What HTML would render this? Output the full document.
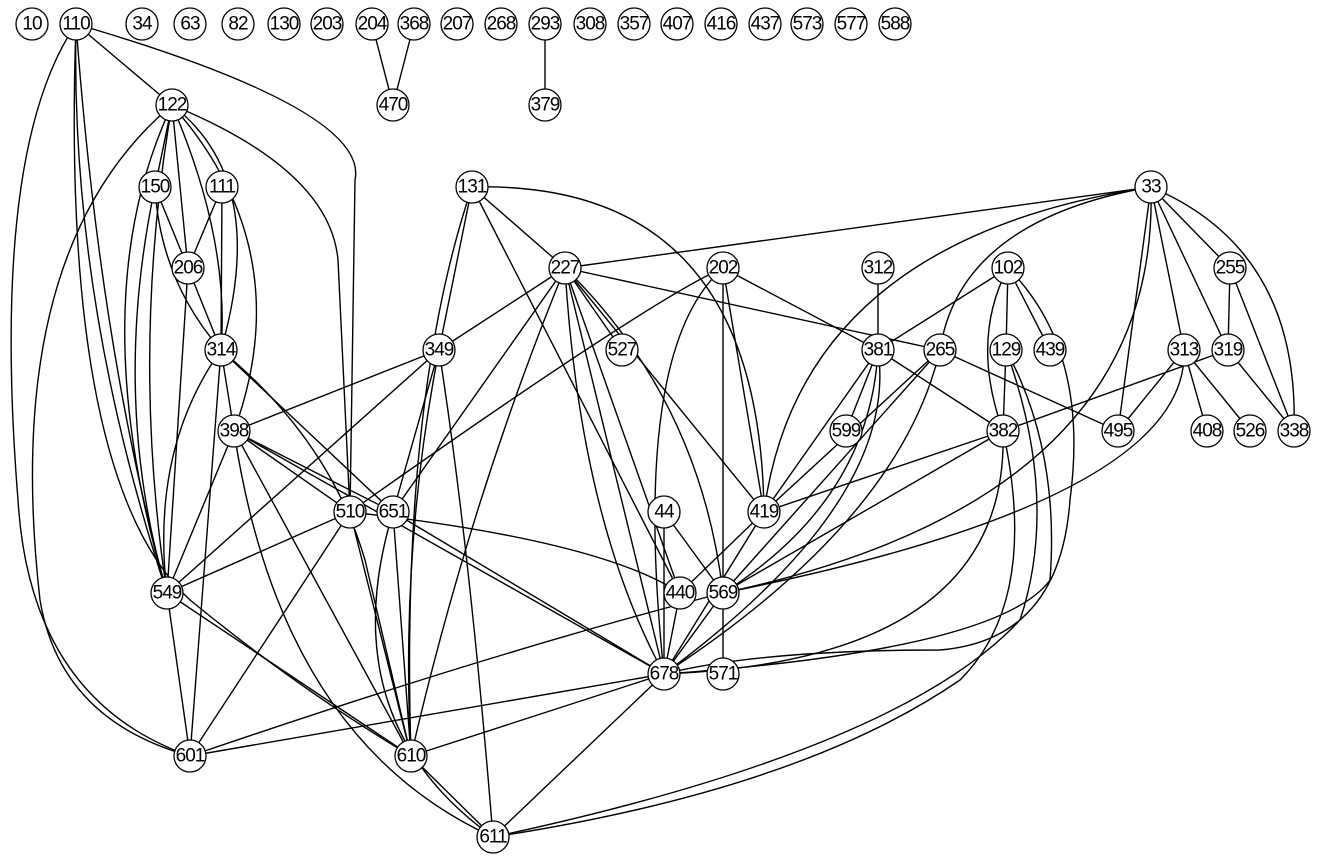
<!DOCTYPE html>
<html><head><meta charset="utf-8"><style>
html,body{margin:0;padding:0;background:#fff}
svg{display:block}
text{font-family:"Liberation Sans",Arial,sans-serif;font-size:19px;text-anchor:middle;dominant-baseline:central;letter-spacing:-1px}
circle{fill:#fff;stroke:#000;stroke-width:1.3}
path{fill:none;stroke:#000;stroke-width:1.4}
</style></head><body>
<svg width="1320" height="857" viewBox="0 0 1320 857" xmlns="http://www.w3.org/2000/svg">
<g>
<path d="M76 24 L172 105"/>
<path d="M76 24 Q70 300 167 593"/>
<path d="M76 24 Q100 350 167 593"/>
<path d="M76 24 Q-10 150 18 500 Q30 700 190 756"/>
<path d="M76 24 Q60 480 190 600 Q300 690 411 756"/>
<path d="M76 24 Q370 110 355 180 L350 512"/>
<path d="M372 24 L393 105"/>
<path d="M414 24 L393 105"/>
<path d="M545 24 L545 105"/>
<path d="M172 105 L155 187"/>
<path d="M172 105 L188 268"/>
<path d="M172 105 Q270 180 221 350"/>
<path d="M172 105 Q230 240 221 350"/>
<path d="M172 105 Q300 250 234 431"/>
<path d="M172 105 Q80 300 167 593"/>
<path d="M172 105 Q130 350 167 593"/>
<path d="M172 105 Q0 250 40 600 Q60 720 190 756"/>
<path d="M172 105 Q330 170 338 260 L350 512"/>
<path d="M155 187 L188 268"/>
<path d="M155 187 Q160 280 221 350"/>
<path d="M155 187 Q110 400 167 593"/>
<path d="M222 187 L188 268"/>
<path d="M222 187 L221 350"/>
<path d="M188 268 L167 593"/>
<path d="M188 268 L221 350"/>
<path d="M221 350 L234 431"/>
<path d="M221 350 Q150 450 167 593"/>
<path d="M221 350 L190 756"/>
<path d="M221 350 L393 512"/>
<path d="M221 350 Q330 440 365 560 L411 756"/>
<path d="M472 187 L565 268"/>
<path d="M472 187 L439 350"/>
<path d="M472 187 Q400 400 411 756"/>
<path d="M472 187 Q760 180 764 512"/>
<path d="M472 187 L680 593"/>
<path d="M565 268 L1151 187"/>
<path d="M565 268 L439 350"/>
<path d="M565 268 L622 350"/>
<path d="M565 268 L393 512"/>
<path d="M565 268 Q470 500 411 756"/>
<path d="M565 268 L680 593"/>
<path d="M565 268 L664 674"/>
<path d="M565 268 Q580 520 664 674"/>
<path d="M565 268 Q700 400 723 593"/>
<path d="M565 268 L764 512"/>
<path d="M565 268 L940 350"/>
<path d="M723 268 Q650 300 350 512"/>
<path d="M723 268 L723 593"/>
<path d="M723 268 L764 512"/>
<path d="M723 268 Q630 350 664 674"/>
<path d="M723 268 L878 350"/>
<path d="M878 268 L878 350"/>
<path d="M878 350 L1008 268"/>
<path d="M878 350 L846 431"/>
<path d="M878 350 L764 512"/>
<path d="M878 350 L1003 431"/>
<path d="M878 350 Q870 500 723 593"/>
<path d="M878 350 Q900 500 664 674"/>
<path d="M1151 187 Q960 220 940 350"/>
<path d="M940 350 L764 512"/>
<path d="M940 350 L723 593"/>
<path d="M940 350 Q900 520 664 674"/>
<path d="M940 350 L1118 431"/>
<path d="M1008 268 L1006 350"/>
<path d="M1008 268 L1050 350"/>
<path d="M1008 268 Q970 340 1003 431"/>
<path d="M1008 268 Q1090 350 1070 500 Q1060 640 940 650 Q760 650 664 674"/>
<path d="M1006 350 L1003 431"/>
<path d="M1006 350 Q1060 450 1050 580 Q1000 650 664 674"/>
<path d="M1006 350 Q1060 500 1020 620 Q900 750 493 837"/>
<path d="M1151 187 L1230 268"/>
<path d="M1151 187 L1228 350"/>
<path d="M1151 187 Q1300 250 1294 431"/>
<path d="M1151 187 L1184 350"/>
<path d="M1151 187 L1118 431"/>
<path d="M1151 187 Q800 240 764 512"/>
<path d="M1151 187 Q1160 500 723 593"/>
<path d="M1230 268 L1228 350"/>
<path d="M1230 268 L1294 431"/>
<path d="M1184 350 L1118 431"/>
<path d="M1184 350 L1207 431"/>
<path d="M1184 350 L1250 431"/>
<path d="M1184 350 Q1190 500 723 593"/>
<path d="M1228 350 L1294 431"/>
<path d="M1228 350 L1003 431"/>
<path d="M1003 431 L764 512"/>
<path d="M1003 431 L723 593"/>
<path d="M1003 431 Q1010 660 664 674"/>
<path d="M1003 431 Q1040 600 960 680 Q800 790 493 837"/>
<path d="M439 350 L234 431"/>
<path d="M439 350 L167 593"/>
<path d="M439 350 L393 512"/>
<path d="M439 350 Q400 550 411 756"/>
<path d="M439 350 Q470 550 493 837"/>
<path d="M234 431 L350 512"/>
<path d="M234 431 L393 512"/>
<path d="M234 431 L411 756"/>
<path d="M234 431 L664 674"/>
<path d="M234 431 Q280 740 493 837"/>
<path d="M234 431 L167 593"/>
<path d="M350 512 L167 593"/>
<path d="M350 512 L190 756"/>
<path d="M350 512 L411 756"/>
<path d="M350 512 Q600 540 680 593"/>
<path d="M393 512 L664 674"/>
<path d="M393 512 L411 756"/>
<path d="M393 512 Q330 720 493 837"/>
<path d="M664 512 L664 674"/>
<path d="M664 512 L723 593"/>
<path d="M764 512 L680 593"/>
<path d="M764 512 L664 674"/>
<path d="M680 593 L664 674"/>
<path d="M723 593 L723 674"/>
<path d="M723 593 L664 674"/>
<path d="M723 593 Q500 650 190 756"/>
<path d="M167 593 L190 756"/>
<path d="M167 593 L411 756"/>
<path d="M664 674 L190 756"/>
<path d="M664 674 L411 756"/>
<path d="M664 674 L493 837"/>
<path d="M411 756 L493 837"/>
</g>
<g>
<circle cx="32" cy="24" r="16"/><text x="32" y="24">10</text>
<circle cx="76" cy="24" r="16"/><text x="76" y="24">110</text>
<circle cx="142" cy="24" r="16"/><text x="142" y="24">34</text>
<circle cx="190" cy="24" r="16"/><text x="190" y="24">63</text>
<circle cx="238" cy="24" r="16"/><text x="238" y="24">82</text>
<circle cx="284" cy="24" r="16"/><text x="284" y="24">130</text>
<circle cx="327" cy="24" r="16"/><text x="327" y="24">203</text>
<circle cx="372" cy="24" r="16"/><text x="372" y="24">204</text>
<circle cx="414" cy="24" r="16"/><text x="414" y="24">368</text>
<circle cx="457" cy="24" r="16"/><text x="457" y="24">207</text>
<circle cx="501" cy="24" r="16"/><text x="501" y="24">268</text>
<circle cx="545" cy="24" r="16"/><text x="545" y="24">293</text>
<circle cx="590" cy="24" r="16"/><text x="590" y="24">308</text>
<circle cx="634" cy="24" r="16"/><text x="634" y="24">357</text>
<circle cx="677" cy="24" r="16"/><text x="677" y="24">407</text>
<circle cx="721" cy="24" r="16"/><text x="721" y="24">416</text>
<circle cx="765" cy="24" r="16"/><text x="765" y="24">437</text>
<circle cx="807" cy="24" r="16"/><text x="807" y="24">573</text>
<circle cx="851" cy="24" r="16"/><text x="851" y="24">577</text>
<circle cx="895" cy="24" r="16"/><text x="895" y="24">588</text>
<circle cx="393" cy="105" r="16"/><text x="393" y="105">470</text>
<circle cx="545" cy="105" r="16"/><text x="545" y="105">379</text>
<circle cx="172" cy="105" r="16"/><text x="172" y="105">122</text>
<circle cx="155" cy="187" r="16"/><text x="155" y="187">150</text>
<circle cx="222" cy="187" r="16"/><text x="222" y="187">111</text>
<circle cx="472" cy="187" r="16"/><text x="472" y="187">131</text>
<circle cx="1151" cy="187" r="16"/><text x="1151" y="187">33</text>
<circle cx="188" cy="268" r="16"/><text x="188" y="268">206</text>
<circle cx="565" cy="268" r="16"/><text x="565" y="268">227</text>
<circle cx="723" cy="268" r="16"/><text x="723" y="268">202</text>
<circle cx="878" cy="268" r="16"/><text x="878" y="268">312</text>
<circle cx="1008" cy="268" r="16"/><text x="1008" y="268">102</text>
<circle cx="1230" cy="268" r="16"/><text x="1230" y="268">255</text>
<circle cx="221" cy="350" r="16"/><text x="221" y="350">314</text>
<circle cx="439" cy="350" r="16"/><text x="439" y="350">349</text>
<circle cx="622" cy="350" r="16"/><text x="622" y="350">527</text>
<circle cx="878" cy="350" r="16"/><text x="878" y="350">381</text>
<circle cx="940" cy="350" r="16"/><text x="940" y="350">265</text>
<circle cx="1006" cy="350" r="16"/><text x="1006" y="350">129</text>
<circle cx="1050" cy="350" r="16"/><text x="1050" y="350">439</text>
<circle cx="1184" cy="350" r="16"/><text x="1184" y="350">313</text>
<circle cx="1228" cy="350" r="16"/><text x="1228" y="350">319</text>
<circle cx="234" cy="431" r="16"/><text x="234" y="431">398</text>
<circle cx="846" cy="431" r="16"/><text x="846" y="431">599</text>
<circle cx="1003" cy="431" r="16"/><text x="1003" y="431">382</text>
<circle cx="1118" cy="431" r="16"/><text x="1118" y="431">495</text>
<circle cx="1207" cy="431" r="16"/><text x="1207" y="431">408</text>
<circle cx="1250" cy="431" r="16"/><text x="1250" y="431">526</text>
<circle cx="1294" cy="431" r="16"/><text x="1294" y="431">338</text>
<circle cx="350" cy="512" r="16"/><text x="350" y="512">510</text>
<circle cx="393" cy="512" r="16"/><text x="393" y="512">651</text>
<circle cx="664" cy="512" r="16"/><text x="664" y="512">44</text>
<circle cx="764" cy="512" r="16"/><text x="764" y="512">419</text>
<circle cx="167" cy="593" r="16"/><text x="167" y="593">549</text>
<circle cx="680" cy="593" r="16"/><text x="680" y="593">440</text>
<circle cx="723" cy="593" r="16"/><text x="723" y="593">569</text>
<circle cx="664" cy="674" r="16"/><text x="664" y="674">678</text>
<circle cx="723" cy="674" r="16"/><text x="723" y="674">571</text>
<circle cx="190" cy="756" r="16"/><text x="190" y="756">601</text>
<circle cx="411" cy="756" r="16"/><text x="411" y="756">610</text>
<circle cx="493" cy="837" r="16"/><text x="493" y="837">611</text>
</g>
</svg>
</body></html>
